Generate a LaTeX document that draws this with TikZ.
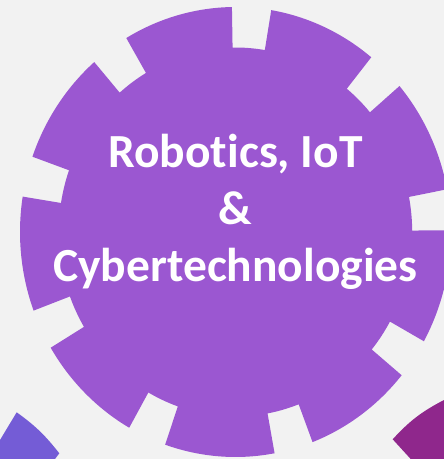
\documentclass[tikz,border=0pt]{standalone}
\usepackage{fontspec}
\setmainfont{Carlito}[Ligatures=NoCommon]
\definecolor{bgGray}{RGB}{242,242,242}
\definecolor{gearPurple}{RGB}{155,87,209}
\definecolor{gearBlue}{RGB}{116,92,214}
\definecolor{gearMagenta}{RGB}{143,39,140}
\begin{document}
\begin{tikzpicture}[x=1pt, y=1pt]
        % Setup the canvas
        \fill[bgGray] (0,0) rectangle (444,459);
        \useasboundingbox (0,0) rectangle (444,459);

        % Neighbour gears, cut by the border
        \fill[gearBlue] (0,19) -- (16.7,46.7) to[bend left=8] (59.3,5.7) -- (55,0) -- (0,0) -- cycle;
        \fill[gearMagenta] (410.7,0) -- (392.7,19.7) to[bend left=10] (444,59) -- (444,0) -- cycle;

        % Main gear with nine notches
        \begin{scope}[shift={(235.5,227)}]
            \fill[gearPurple] (90.95:215.5pt and 225pt)
                \foreach \k in {0,...,8} {
                    arc[start angle={90.95+40*\k}, end angle={120.45+40*\k}, x radius=215.5pt, y radius=225pt]
                    -- ({120.45+40*\k}:176.7pt and 184.5pt)
                    arc[start angle={120.45+40*\k}, end angle={130.95+40*\k}, x radius=176.7pt, y radius=184.5pt]
                    -- ({130.95+40*\k}:215.5pt and 225pt)
                } -- cycle;
        \end{scope}

        % Title in the middle
        \node[text=white, font=\bfseries\fontsize{47.5}{57}\selectfont, align=center, inner sep=0pt] (title) at (235.5,247) {Robotics, IoT\\\&\\Cybertechnologies};
\end{tikzpicture}
\end{document}
